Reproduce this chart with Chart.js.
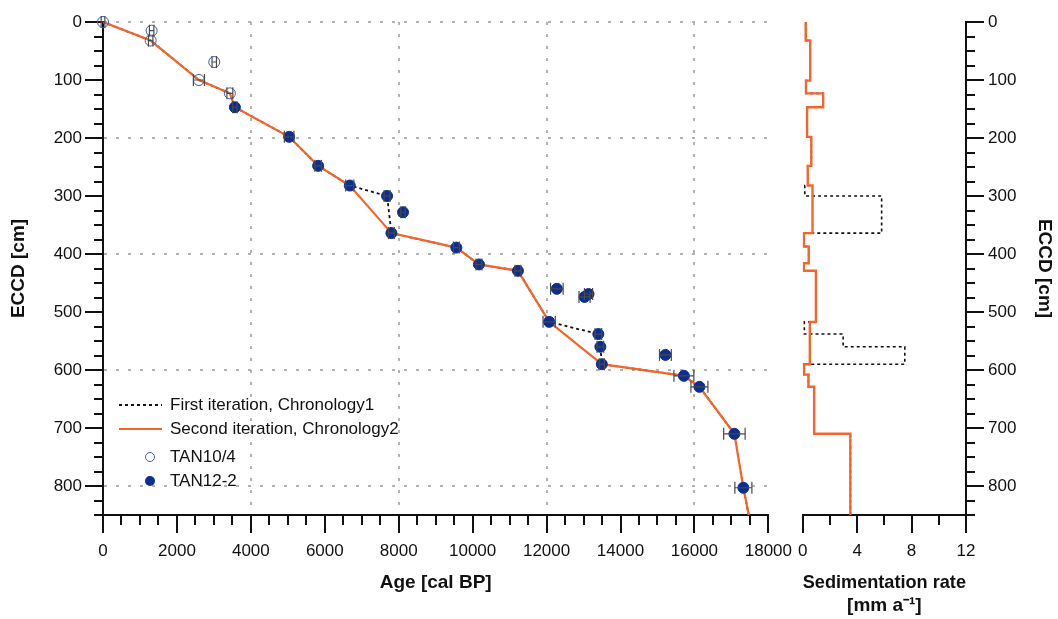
<!DOCTYPE html>
<html>
<head>
<meta charset="utf-8">
<script src="https://cdn.jsdelivr.net/npm/chart.js@4.4.0/dist/chart.umd.min.js"></script>
<style>
  html, body { margin: 0; padding: 0; background: #fff; }
  body { width: 1058px; height: 619px; position: relative; overflow: hidden; font-family: "Liberation Sans", Arial, sans-serif; color: #111; }
  canvas { position: absolute; top: 0; }
  #ageChart { left: 0; }
  #rateChart { left: 790px; }
  .lbl { position: absolute; left: 170px; font-size: 17px; line-height: 20px; white-space: nowrap; }
  .sym { position: absolute; }
  .dash { left: 119px; width: 43px; height: 2px; background: repeating-linear-gradient(90deg, #111 0 3px, transparent 3px 6px); }
  .solid { left: 119px; width: 43px; height: 2px; background: #f5652b; }
  .dot { left: 145px; width: 10px; height: 10px; border-radius: 50%; box-sizing: border-box; }
</style>
</head>
<body>
<canvas id="ageChart" width="800" height="619"></canvas>
<canvas id="rateChart" width="268" height="619"></canvas>

<span class="sym dash" style="top:404px"></span><span class="lbl" style="top:395px">First iteration, Chronology1</span>
<span class="sym solid" style="top:428px"></span><span class="lbl" style="top:419px">Second iteration, Chronology2</span>
<span class="sym dot" style="top:452px; border:1px solid #3e5da8"></span><span class="lbl" style="top:447px">TAN10/4</span>
<span class="sym dot" style="top:476px; background:#0c2e8e"></span><span class="lbl" style="top:471px">TAN12-2</span>

<script>
// Age-depth samples (age cal BP, depth cm, 1-sigma age error)
const tan10Age   = [0, 1316, 1290, 3010, 2595, 3432];
const tan10Depth = [0, 15, 32, 69, 100, 123];
const tan10Err   = [50, 60, 60, 60, 150, 80];

const tan12Age   = [3568, 5036, 5820, 6676, 7685, 8117, 7802, 9559, 10171, 11225, 12278, 13027, 13135, 12070, 13400, 13455, 13495, 15215, 15715, 16135, 17081, 17324];
const tan12Depth = [147, 198, 248, 282, 300, 328, 364, 389, 418, 429, 460, 474, 469, 517, 538, 560, 590, 574, 610, 629, 710, 803];
const tan12Err   = [60, 130, 90, 110, 80, 60, 80, 80, 80, 80, 170, 150, 110, 165, 90, 90, 70, 160, 270, 230, 290, 230];

// Age models
const chron1Age   = [0, 1290, 2595, 3432, 3568, 5036, 5820, 6676, 7685, 7802, 9559, 10171, 11225, 12070, 13400, 13455, 13495, 15715, 16135, 17081, 17324, 17470];
const chron1Depth = [0, 32, 100, 123, 147, 198, 248, 282, 300, 364, 389, 418, 429, 517, 538, 560, 590, 610, 629, 710, 803, 850];
const chron2Age   = [0, 1290, 2595, 3432, 3568, 5036, 5820, 6676, 7802, 9559, 10171, 11225, 12070, 13495, 15715, 16135, 17081, 17324, 17470];
const chron2Depth = [0, 32, 100, 123, 147, 198, 248, 282, 364, 389, 418, 429, 517, 590, 610, 629, 710, 803, 850];

// Sedimentation rate (mm/a) per depth interval, interval tops in cm
const sed1Top  = [0, 32, 101, 123, 147, 198, 248, 282, 300, 364, 387, 416, 429, 517, 538, 560, 590, 608, 629, 710];
const sed1Rate = [0.22, 0.55, 0.24, 1.5, 0.32, 0.63, 0.37, 0.15, 5.8, 0.08, 0.44, 0.08, 0.97, 0.12, 2.97, 7.5, 0.1, 0.42, 0.84, 3.5];
const sed2Top  = [0, 32, 101, 123, 147, 198, 248, 282, 364, 387, 416, 429, 517, 590, 608, 629, 710];
const sed2Rate = [0.22, 0.55, 0.24, 1.5, 0.32, 0.63, 0.37, 0.72, 0.08, 0.44, 0.08, 0.97, 0.52, 0.1, 0.42, 0.84, 3.5];
const coreBottom = 850;

const ageTicks = { min: 0, max: 18000, major: 2000, minor: 500, grid: 4000 };
const rateTicks = { min: 0, max: 12, major: 4, minor: 2 };
const depthTicks = { min: 0, max: 850, major: 100, minor: 25, grid: 200 };

const ORANGE = '#f5652b';
const INK = '#111';
const GRID = '#b3b3b3';
const FONT = '"Liberation Sans", Arial, sans-serif';

Chart.defaults.font.family = FONT;
Chart.defaults.color = INK;

const pts = (xs, ys) => xs.map((x, i) => ({ x: x, y: ys[i] }));
const plain = (v) => String(v);

// error bars: one segment per sample, separated by gaps
const errPts = [];
[[tan10Age, tan10Depth, tan10Err], [tan12Age, tan12Depth, tan12Err]].forEach(([a, d, e]) => {
  a.forEach((age, i) => {
    errPts.push({ x: age - e[i], y: d[i] }, { x: age + e[i], y: d[i] }, { x: null, y: null });
  });
});

const stepPts = (tops, rates) => {
  const p = tops.map((t, i) => ({ x: rates[i], y: t }));
  p.push({ x: rates[rates.length - 1], y: coreBottom });
  return p;
};

const ageGrid = (c) => (c.tick && c.tick.value > 0 && c.tick.value % ageTicks.grid === 0) ? GRID : 'rgba(0,0,0,0)';
const depthGrid = (c) => (c.tick && c.tick.value % depthTicks.grid === 0) ? GRID : 'rgba(0,0,0,0)';

function minorAxis(pos, min, max, step, len, horiz) {
  return {
    type: 'linear', position: pos, min: min, max: max, weight: 0,
    reverse: !horiz,
    ticks: { stepSize: step, display: false, autoSkip: false, includeBounds: true },
    grid: { drawOnChartArea: false, tickLength: len, tickWidth: 2, tickColor: INK, lineWidth: 2, tickBorderDash: [] },
    border: { display: false },
    afterFit: horiz ? (s) => { s.height = 0; } : (s) => { s.width = 0; }
  };
}

new Chart(document.getElementById('ageChart'), {
  type: 'line',
  data: {
    datasets: [
      {
        label: 'errors', data: errPts, xAxisID: 'x', yAxisID: 'y', order: 0, clip: false,
        borderColor: '#4a4a4a', borderWidth: 1.2, spanGaps: false,
        pointStyle: 'line', rotation: 90, pointRadius: 6, pointBorderColor: '#4a4a4a', pointBorderWidth: 1.2
      },
      {
        label: 'TAN12-2', data: pts(tan12Age, tan12Depth), xAxisID: 'x', yAxisID: 'y', order: 1, clip: false,
        showLine: false, pointRadius: 5.5, pointBackgroundColor: '#0c2e8e', pointBorderColor: '#0c2e8e', pointBorderWidth: 1
      },
      {
        label: 'TAN10/4', data: pts(tan10Age, tan10Depth), xAxisID: 'x', yAxisID: 'y', order: 2, clip: false,
        showLine: false, pointRadius: 5.5, pointBackgroundColor: 'rgba(0,0,0,0)', pointBorderColor: '#3e5da8', pointBorderWidth: 1
      },
      {
        label: 'Second iteration, Chronology2', data: pts(chron2Age, chron2Depth), xAxisID: 'x', yAxisID: 'y', order: 3,
        borderColor: ORANGE, borderWidth: 2.2, pointRadius: 0, tension: 0
      },
      {
        label: 'First iteration, Chronology1', data: pts(chron1Age, chron1Depth), xAxisID: 'x', yAxisID: 'y', order: 4,
        borderColor: INK, borderWidth: 1.8, borderDash: [3, 3], pointRadius: 0, tension: 0
      }
    ]
  },
  options: {
    responsive: false,
    animation: false,
    layout: { padding: { top: 22, right: 31, left: 0, bottom: 0 } },
    plugins: { legend: { display: false }, tooltip: { enabled: false } },
    scales: {
      xMinor: minorAxis('bottom', ageTicks.min, ageTicks.max, ageTicks.minor, 10, true),
      yMinor: minorAxis('left', depthTicks.min, depthTicks.max, depthTicks.minor, 9, false),
      x: {
        type: 'linear', position: 'bottom', min: ageTicks.min, max: ageTicks.max, weight: 1,
        ticks: { stepSize: ageTicks.major, padding: 8, font: { size: 17 }, color: INK, maxRotation: 0, autoSkip: false, callback: plain },
        grid: { color: ageGrid, lineWidth: 2, tickColor: INK, tickWidth: 2, tickLength: 18, tickBorderDash: [] },
        border: { color: INK, width: 2, dash: [3, 9] },
        title: { display: true, text: 'Age [cal BP]', font: { size: 19, weight: 'bold' }, color: INK, padding: { top: 0, bottom: 25 } },
        afterFit: (s) => { s.height = 104; }
      },
      y: {
        type: 'linear', position: 'left', reverse: true, min: depthTicks.min, max: depthTicks.max, weight: 1,
        ticks: { stepSize: depthTicks.major, includeBounds: false, padding: 3, font: { size: 17 }, color: INK, autoSkip: false, callback: plain },
        grid: { color: depthGrid, lineWidth: 2, tickColor: INK, tickWidth: 2, tickLength: 18, tickBorderDash: [] },
        border: { color: INK, width: 2, dash: [3, 9] },
        title: { display: true, text: 'ECCD [cm]', font: { size: 19, weight: 'bold' }, color: INK, padding: { top: 7, bottom: 0 } },
        afterFit: (s) => { s.width = 103; }
      }
    }
  }
});

new Chart(document.getElementById('rateChart'), {
  type: 'line',
  data: {
    datasets: [
      {
        label: 'Chronology2', data: stepPts(sed2Top, sed2Rate), xAxisID: 'x', yAxisID: 'yR', order: 0,
        borderColor: ORANGE, borderWidth: 2.4, pointRadius: 0, stepped: 'after'
      },
      {
        label: 'Chronology1', data: stepPts(sed1Top, sed1Rate), xAxisID: 'x', yAxisID: 'yR', order: 1,
        borderColor: INK, borderWidth: 1.6, borderDash: [3, 3], pointRadius: 0, stepped: 'after'
      }
    ]
  },
  options: {
    responsive: false,
    animation: false,
    layout: { padding: { top: 22, right: 0, left: 12, bottom: 0 } },
    plugins: { legend: { display: false }, tooltip: { enabled: false } },
    scales: {
      xMinor: minorAxis('bottom', rateTicks.min, rateTicks.max, rateTicks.minor, 10, true),
      yRMinor: minorAxis('right', depthTicks.min, depthTicks.max, depthTicks.minor, 9, false),
      x: {
        type: 'linear', position: 'bottom', min: rateTicks.min, max: rateTicks.max, weight: 1,
        ticks: { stepSize: rateTicks.major, padding: 8, font: { size: 17 }, color: INK, maxRotation: 0, autoSkip: false, callback: plain },
        grid: { drawOnChartArea: false, lineWidth: 2, tickColor: INK, tickWidth: 2, tickLength: 18 },
        border: { color: INK, width: 2 },
        title: { display: true, text: ['Sedimentation rate', '[mm a\u207B\u00B9]'], font: { size: 19, weight: 'bold' }, color: INK, padding: { top: 0, bottom: 2 } },
        afterFit: (s) => { s.height = 104; }
      },
      yR: {
        type: 'linear', position: 'right', reverse: true, min: depthTicks.min, max: depthTicks.max, weight: 1,
        ticks: { stepSize: depthTicks.major, includeBounds: false, padding: 4, font: { size: 17 }, color: INK, autoSkip: false, callback: plain },
        grid: { drawOnChartArea: false, lineWidth: 2, tickColor: INK, tickWidth: 2, tickLength: 18 },
        border: { color: INK, width: 2 },
        title: { display: true, text: 'ECCD [cm]', font: { size: 19, weight: 'bold' }, color: INK, padding: { top: 2, bottom: 0 } },
        afterFit: (s) => { s.width = 92; }
      }
    }
  }
});
</script>
</body>
</html>
